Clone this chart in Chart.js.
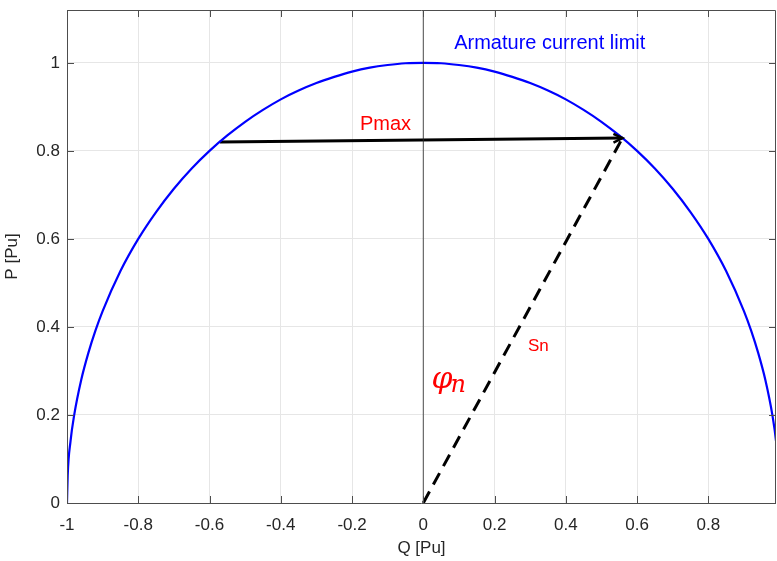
<!DOCTYPE html>
<html>
<head>
<meta charset="utf-8">
<script src="https://cdn.jsdelivr.net/npm/chart.js@4.4.1/dist/chart.umd.min.js"></script>
<style>
  html, body { margin: 0; padding: 0; background: #fff; }
  #wrap { width: 777px; height: 561px; }
</style>
</head>
<body>
<div id="wrap"><canvas id="c" width="777" height="561"></canvas></div>
<script>
// ---- data ----
const limitQ = [-1, -0.998, -0.99, -0.98, -0.96, -0.94, -0.92, -0.9, -0.85, -0.8, -0.75, -0.7, -0.65, -0.6, -0.55, -0.5, -0.45, -0.4, -0.35, -0.3, -0.25, -0.2, -0.15, -0.1, -0.05, 0,
  0.05, 0.1, 0.15, 0.2, 0.25, 0.3, 0.35, 0.4, 0.45, 0.5, 0.55, 0.6, 0.65, 0.7, 0.75, 0.8, 0.85, 0.9, 0.92, 0.94, 0.96, 0.98, 0.99, 0.998];
const limitP = [0, 0.063, 0.141, 0.199, 0.280, 0.341, 0.392, 0.436, 0.527, 0.600, 0.661, 0.714, 0.760, 0.800, 0.835, 0.866, 0.893, 0.917, 0.937, 0.954, 0.968, 0.980, 0.989, 0.995, 0.999, 1,
  0.999, 0.995, 0.989, 0.980, 0.968, 0.954, 0.937, 0.917, 0.893, 0.866, 0.835, 0.800, 0.760, 0.714, 0.661, 0.600, 0.527, 0.436, 0.392, 0.341, 0.280, 0.199, 0.141, 0.063];
const pmaxQ = [-0.571, 0.559];
const pmaxP = [0.820, 0.829];
const snQ = [0, 0.559];
const snP = [0, 0.829];
const axisQ = [0, 0];
const axisP = [0, 1.12];
const xTicks = [-1, -0.8, -0.6, -0.4, -0.2, 0, 0.2, 0.4, 0.6, 0.8];
const xTickLabels = ['-1', '-0.8', '-0.6', '-0.4', '-0.2', '0', '0.2', '0.4', '0.6', '0.8'];
const yTicks = [0, 0.2, 0.4, 0.6, 0.8, 1];
const yTickLabels = ['0', '0.2', '0.4', '0.6', '0.8', '1'];
const labelTexts = ['Armature current limit', 'Pmax', 'Sn'];
const labelQ = [0.355, -0.106, 0.323];
const labelP = [1.043, 0.861, 0.355];
const phiQ = 0.068;
const phiP = 0.28;

const pts = (xs, ys) => xs.map((x, i) => ({ x: x, y: ys[i] }));
const FONT = '"Liberation Sans", Arial, Helvetica, sans-serif';

const decor = {
  id: 'decor',
  afterDraw(chart) {
    const ctx = chart.ctx;
    const a = chart.chartArea;
    const xs = chart.scales.x, ys = chart.scales.y;
    ctx.save();
    // box
    ctx.strokeStyle = '#4d4d4d';
    ctx.lineWidth = 1;
    ctx.beginPath();
    ctx.rect(Math.round(a.left) + 0.5, Math.round(a.top) + 0.5, Math.round(a.right - a.left) - 1, Math.round(a.bottom - a.top));
    ctx.stroke();
    // inward ticks
    const tl = 7;
    ctx.beginPath();
    xTicks.forEach(v => {
      const px = Math.round(xs.getPixelForValue(v)) + 0.5;
      ctx.moveTo(px, a.bottom); ctx.lineTo(px, a.bottom - tl);
      ctx.moveTo(px, a.top); ctx.lineTo(px, a.top + tl);
    });
    yTicks.forEach(v => {
      const py = Math.round(ys.getPixelForValue(v)) + 0.5;
      ctx.moveTo(a.left, py); ctx.lineTo(a.left + tl, py);
      ctx.moveTo(a.right, py); ctx.lineTo(a.right - tl, py);
    });
    ctx.stroke();

    // arrow head at end of Pmax line
    const x0 = xs.getPixelForValue(pmaxQ[0]), y0 = ys.getPixelForValue(pmaxP[0]);
    const x1 = xs.getPixelForValue(pmaxQ[1]), y1 = ys.getPixelForValue(pmaxP[1]);
    const ang = Math.atan2(y1 - y0, x1 - x0);
    const hl = 10, hw = 0.45;
    ctx.strokeStyle = '#000';
    ctx.lineWidth = 2.5;
    ctx.beginPath();
    ctx.moveTo(x1 - hl * Math.cos(ang - hw), y1 - hl * Math.sin(ang - hw));
    ctx.lineTo(x1, y1);
    ctx.lineTo(x1 - hl * Math.cos(ang + hw), y1 - hl * Math.sin(ang + hw));
    ctx.stroke();

    // text annotations
    ctx.textAlign = 'center';
    ctx.textBaseline = 'middle';
    const fonts = ['20px ' + FONT, '20px ' + FONT, '17px ' + FONT];
    const cols = ['#0000ff', '#ff0000', '#ff0000'];
    labelTexts.forEach((t, i) => {
      ctx.font = fonts[i];
      ctx.fillStyle = cols[i];
      ctx.fillText(t, xs.getPixelForValue(labelQ[i]), ys.getPixelForValue(labelP[i]));
    });
    // phi_n
    const px = xs.getPixelForValue(phiQ), py = ys.getPixelForValue(phiP);
    ctx.fillStyle = '#ff0000';
    ctx.textAlign = 'left';
    ctx.textBaseline = 'alphabetic';
    ctx.font = 'italic 30px "DejaVu Serif", serif';
    ctx.fillText('φ', px - 16, py + 8);
    const w = ctx.measureText('φ').width;
    ctx.font = 'italic 24px "DejaVu Serif", serif';
    ctx.fillText('n', px - 16 + w - 2, py + 12);
    ctx.restore();
  }
};

new Chart(document.getElementById('c'), {
  type: 'scatter',
  data: {
    datasets: [
      { data: pts(axisQ, axisP), showLine: true, borderColor: '#262626', borderWidth: 0.8, pointRadius: 0 },
      { data: pts(limitQ, limitP), showLine: true, borderColor: '#0000ff', borderWidth: 2.2, pointRadius: 0, tension: 0.4, cubicInterpolationMode: 'monotone' },
      { data: pts(pmaxQ, pmaxP), showLine: true, borderColor: '#000000', borderWidth: 3, pointRadius: 0 },
      { data: pts(snQ, snP), showLine: true, borderColor: '#000000', borderWidth: 3, borderDash: [13, 8], pointRadius: 0 }
    ]
  },
  options: {
    responsive: false,
    animation: false,
    devicePixelRatio: 1,
    layout: { padding: { top: 10, right: 1, left: 0, bottom: 0 } },
    plugins: { legend: { display: false }, tooltip: { enabled: false } },
    scales: {
      x: {
        type: 'linear', min: -1, max: 0.99,
        afterBuildTicks: s => { s.ticks = xTicks.map(v => ({ value: v })); },
        afterFit: s => { s.height = 58; s.paddingLeft = 0; s.paddingRight = 0; },
        grid: { color: '#e6e6e6', drawTicks: false, lineWidth: 1 },
        border: { display: false },
        ticks: {
          padding: 12, color: '#262626', font: { family: FONT, size: 17 },
          maxRotation: 0, autoSkip: false,
          callback: (v) => { const i = xTicks.findIndex(t => Math.abs(t - v) < 1e-9); return i >= 0 ? xTickLabels[i] : ''; }
        },
        title: { display: true, text: 'Q [Pu]', color: '#262626', font: { family: FONT, size: 17 }, padding: { top: 0, bottom: 2 } }
      },
      y: {
        type: 'linear', min: 0, max: 1.12,
        afterBuildTicks: s => { s.ticks = yTicks.map(v => ({ value: v })); },
        afterFit: s => { s.width = 67; s.paddingTop = 0; s.paddingBottom = 0; },
        grid: { color: '#e6e6e6', drawTicks: false, lineWidth: 1 },
        border: { display: false },
        ticks: {
          padding: 7, color: '#262626', font: { family: FONT, size: 17 },
          autoSkip: false,
          callback: (v) => { const i = yTicks.findIndex(t => Math.abs(t - v) < 1e-9); return i >= 0 ? yTickLabels[i] : ''; }
        },
        title: { display: true, text: 'P [Pu]', color: '#262626', font: { family: FONT, size: 17 }, padding: { top: 2, bottom: 0 } }
      }
    }
  },
  plugins: [decor]
});
</script>
</body>
</html>
